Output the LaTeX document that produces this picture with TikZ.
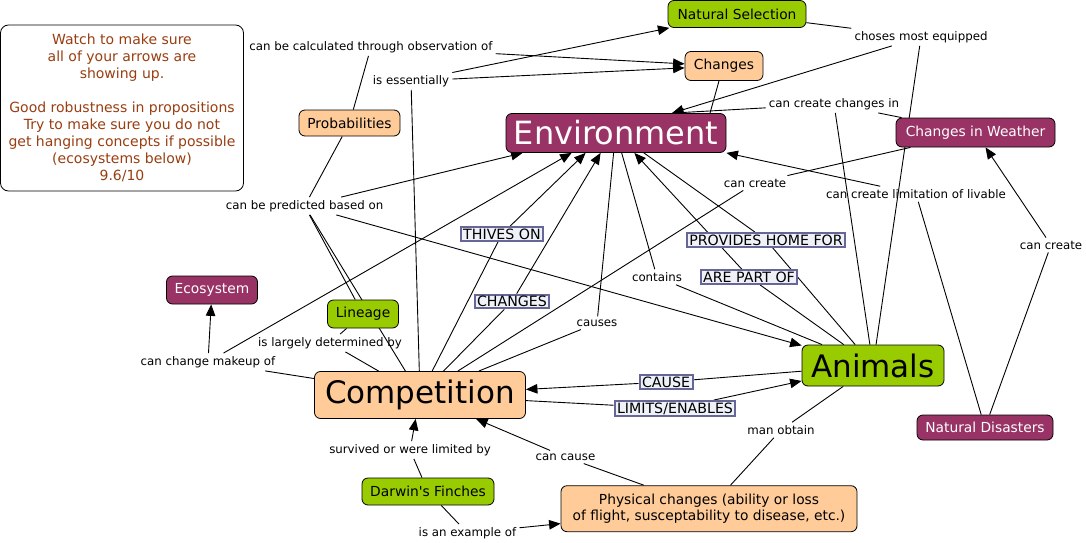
\documentclass[tikz,border=0pt]{standalone}
\usepackage{fontspec}
\setmainfont{DejaVu Sans}
\usetikzlibrary{arrows.meta,calc}
\definecolor{cgreen}{RGB}{153,204,0}
\definecolor{corange}{RGB}{255,204,153}
\definecolor{cpurple}{RGB}{153,51,102}
\definecolor{lblfill}{RGB}{238,242,248}
\definecolor{lbldraw}{RGB}{102,102,153}
\definecolor{notecol}{RGB}{153,62,17}
\pgfdeclarelayer{bg}
\pgfsetlayers{bg,main}
\begin{document}
\begin{tikzpicture}[x=1pt,y=-1pt,
  concept/.style={draw=black, line width=0.8pt, rounded corners=6pt, inner sep=0pt, align=center, font=\fontsize{13.8}{16.7}\selectfont},
  gconcept/.style={concept, fill=cgreen, text=black},
  oconcept/.style={concept, fill=corange, text=black},
  pconcept/.style={concept, fill=cpurple, text=white},
  link/.style={inner sep=3pt, font=\fontsize{11.8}{14}\selectfont},
  blink/.style={draw=lbldraw, line width=2pt, fill=lblfill, inner xsep=2.5pt, inner ysep=1.5pt, font=\fontsize{14.2}{16}\selectfont},
  con/.style={line width=0.9pt, draw=black},
  arr/.style={con, -{Triangle[length=11.5pt,width=9.5pt]}}]
\useasboundingbox (0,0) rectangle (1086,543);

% note box
\node[draw=black, line width=0.8pt, fill=white, rounded corners=8pt, minimum width=243, minimum height=166, inner sep=0pt, align=center, text=notecol, font=\fontsize{14}{17}\selectfont] (note) at (122,108)
  {Watch to make sure\\all of your arrows are\\showing up.\\[17pt]Good robustness in propositions\\Try to make sure you do not\\get hanging concepts if possible\\(ecosystems below)\\9.6/10};

% concepts
\node[gconcept, minimum width=138, minimum height=27] (ns) at (737,14) {Natural Selection};
\node[oconcept, minimum width=78, minimum height=29] (chg) at (724,66) {Changes};
\node[pconcept, minimum width=220, minimum height=39, font=\fontsize{32}{36}\selectfont] (env) at (616,133) {Environment};
\node[pconcept, minimum width=159, minimum height=29] (ciw) at (975.5,132.5) {Changes in Weather};
\node[oconcept, minimum width=101, minimum height=26] (prob) at (349.5,123) {Probabilities};
\node[pconcept, minimum width=91, minimum height=28] (eco) at (212,290) {Ecosystem};
\node[gconcept, minimum width=71, minimum height=28] (lin) at (363,314) {Lineage};
\node[oconcept, minimum width=211, minimum height=47, font=\fontsize{31}{36}\selectfont] (comp) at (420,395) {Competition};
\node[gconcept, minimum width=142, minimum height=41, font=\fontsize{31}{36}\selectfont] (anim) at (873,365.5) {Animals};
\node[pconcept, minimum width=136, minimum height=25] (nd) at (985,427.5) {Natural Disasters};
\node[gconcept, minimum width=132, minimum height=27] (df) at (428,491.5) {Darwin\textquotesingle s Finches};
\node[oconcept, minimum width=296, minimum height=46] (pc) at (709,508.7) {Physical changes (ability or loss\\of flight, susceptability to disease, etc.)};

% linking phrases
\node[link] (cbcto) at (371,47) {can be calculated through observation of};
\node[link] (ises) at (411,81) {is essentially};
\node[link] (chos) at (921,37) {choses most equipped};
\node[link] (cccin) at (834,104) {can create changes in};
\node[link] (ccr) at (1051,245) {can create};
\node[link] (ccm) at (755,183) {can create};
\node[link] (ccl) at (916,194) {can create limitation of livable};
\node[link] (cbpbo) at (304.6,206) {can be predicted based on};
\node[blink] (thv) at (502,234) {THIVES ON};
\node[blink] (phf) at (766,240) {PROVIDES HOME FOR};
\node[blink] (apo) at (749,277) {ARE PART OF};
\node[link] (cont) at (657,277) {contains};
\node[blink] (chgs) at (512,301.5) {CHANGES};
\node[link] (caus) at (597,323) {causes};
\node[link] (ild) at (330,343) {is largely determined by};
\node[link] (ccmo) at (208,362) {can change makeup of};
\node[blink] (cause) at (666,382) {CAUSE};
\node[blink] (lim) at (675,408.5) {LIMITS/ENABLES};
\node[link] (mo) at (781,430) {man obtain};
\node[link] (sow) at (410,450) {survived or were limited by};
\node[link] (ccs) at (565.5,457) {can cause};
\node[link] (iaeo) at (467.5,533) {is an example of};

\begin{pgfonlayer}{bg}
\draw[con] (prob) -- (cbcto);
\draw[arr] (cbcto) -- (chg);
\draw[con] (comp) -- (ises);
\draw[arr] (ises) -- (ns);
\draw[arr] (ises) -- (chg);
\draw[con] (ns) -- (chos);
\draw[arr] (chos) -- ($(env.north)+(56,0)$);
\draw[con] (anim) -- (chos);
\draw[con] ($(chg.south)+(-5,0)$) -- ($(env.north)+(94,0)$);
\draw[arr] (cccin) -- ($(env.north)+(56,0)$);
\draw[con] (ciw) -- (cccin);
\draw[con] (anim) -- (cccin);
\draw[con] (ciw) -- (ccm);
\draw[con] (ccm) -- (comp);
\draw[arr] (ccl) -- (env.south east);
\draw[con] (nd) -- (ccl);
\draw[con] (nd) -- (ccr);
\draw[arr] (ccr) -- (ciw);
\draw[con] (prob) -- (cbpbo);
\draw[arr] (cbpbo) -- ($(env.south west)+(17,0)$);
\draw[arr] (cbpbo) -- (anim);
\draw[con] (cbpbo) -- (lin);
\draw[con] (comp) -- (cbpbo);
\draw[con] (lin) -- (ild);
\draw[con] (ild) -- (comp);
\draw[con] (comp) -- (ccmo);
\draw[arr] (ccmo) -- (eco);
\draw[arr] (ccmo) -- ($(env.south west)+(66,0)$);
\draw[con] (comp) -- (thv);
\draw[arr] (thv) -- ($(env.south west)+(80,0)$);
\draw[con] (comp) -- (chgs);
\draw[arr] (chgs) -- ($(env.south west)+(95,0)$);
\draw[con] (comp) -- (caus);
\draw[con] (caus) -- ($(env.south west)+(108,0)$);
\draw[con] (env) -- (cont);
\draw[con] (cont) -- (anim);
\draw[arr] (apo) -- (env);
\draw[con] (apo) -- (anim);
\draw[con] (env) -- (phf);
\draw[con] (phf) -- (anim);
\draw[arr] (cause) -- (comp);
\draw[con] (anim) -- (cause);
\draw[con] (comp) -- (lim);
\draw[arr] (lim) -- (anim);
\draw[con] (anim) -- (mo);
\draw[con] (mo) -- (pc);
\draw[con] (pc) -- (ccs);
\draw[arr] (ccs) -- (comp);
\draw[con] (df) -- (sow);
\draw[arr] (sow) -- (comp);
\draw[con] (df) -- (iaeo);
\draw[arr] (iaeo) -- (pc);
\end{pgfonlayer}
\end{tikzpicture}
\end{document}
